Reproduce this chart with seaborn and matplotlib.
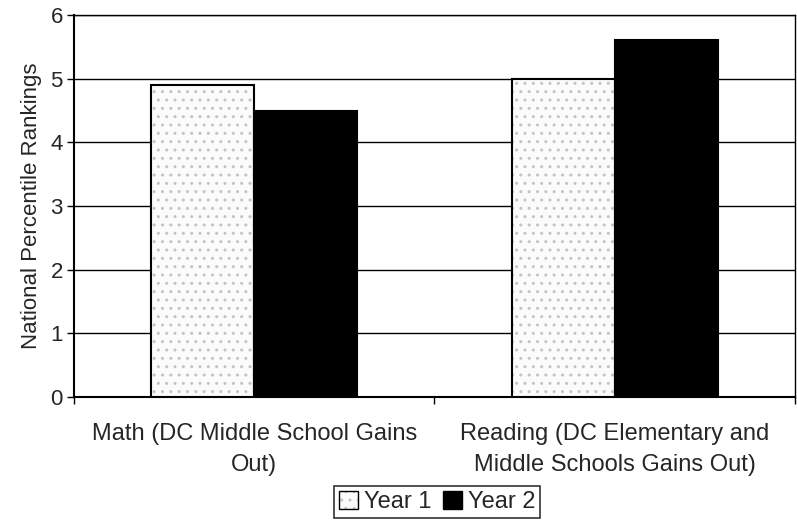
import matplotlib
matplotlib.use("Agg")
import matplotlib.pyplot as plt
import matplotlib.colors as mcolors
import seaborn as sns
import pandas as pd
from matplotlib.patches import Patch

categories = ["Math (DC Middle School Gains\nOut)",
              "Reading (DC Elementary and\nMiddle Schools Gains Out)"]
series_names = ["Year 1", "Year 2"]
year1 = [4.9, 5.0]
year2 = [4.5, 5.6]
y_ticks = [0, 1, 2, 3, 4, 5, 6]

df = pd.DataFrame({
    "category": categories * 2,
    "series": [series_names[0]] * 2 + [series_names[1]] * 2,
    "value": year1 + year2,
})

sns.set_style("white")
plt.rcParams['font.family'] = ['Liberation Sans', 'DejaVu Sans']

fig = plt.figure(figsize=(7.97, 5.23), dpi=100)
ax = fig.add_axes([0.0928, 0.2409, 0.9047, 0.7304])

sns.barplot(data=df, x="category", y="value", hue="series",
            palette={"Year 1": "#fbfbfb", "Year 2": "#000000"},
            width=0.572, gap=0, edgecolor="black", linewidth=1.5,
            legend=False, ax=ax, zorder=3)

light = mcolors.to_rgba('#c4c4c4')
for p in ax.patches[:2]:
    p.set_hatch("..")
    p._hatch_color = light

ax.set_ylim(0, 6)
ax.set_xlim(-0.5, 1.5)
ax.set_yticks(y_ticks)
ax.set_yticklabels([str(t) for t in y_ticks], fontsize=16)
ax.yaxis.grid(True, color="black", linewidth=1)
ax.set_axisbelow(True)

ax.set_xticks([0, 1])
ax.set_xticklabels(categories, fontsize=17, linespacing=1.5)
ax.tick_params(axis='x', length=0, pad=19)
ax.tick_params(axis='y', length=5, width=1, color='black', direction='out', left=True, pad=3)
ax.set_xticks([-0.5, 0.5, 1.5], minor=True)
ax.tick_params(axis='x', which='minor', length=5, width=1, color='black', direction='out', bottom=True)

ax.set_xlabel("")
ax.set_ylabel("National Percentile Rankings", fontsize=16, labelpad=6)

for s in ["left", "bottom"]:
    ax.spines[s].set_color("black")
    ax.spines[s].set_linewidth(1.5)
for s in ["top", "right"]:
    ax.spines[s].set_color("black")
    ax.spines[s].set_linewidth(1)

handles = [Patch(facecolor="#fbfbfb", edgecolor="black", hatch="..", label="Year 1"),
           Patch(facecolor="black", edgecolor="black", label="Year 2")]
leg = fig.legend(handles=handles, loc="center", bbox_to_anchor=(437 / 797, 1 - 502 / 523),
                 ncol=2, frameon=True, fancybox=False, fontsize=17,
                 handlelength=0.8, handleheight=0.8, handletextpad=0.25,
                 columnspacing=0.5, borderpad=0.2, borderaxespad=0, edgecolor="black")
leg.get_frame().set_linewidth(1.2)
for h in leg.legend_handles[:1]:
    h._hatch_color = light

fig.savefig("out.png", dpi=100)
